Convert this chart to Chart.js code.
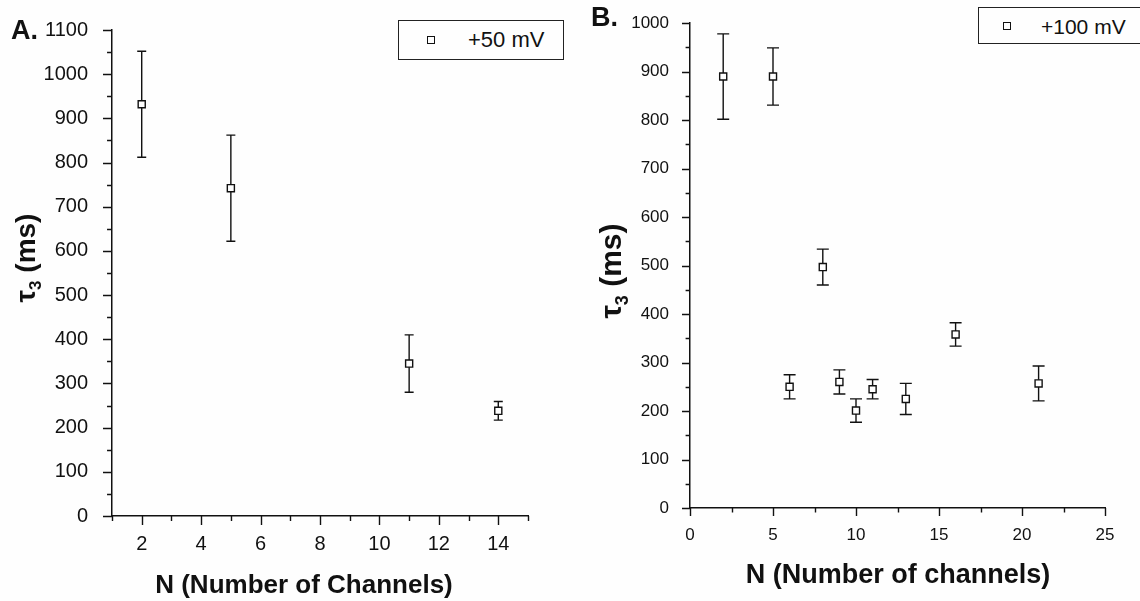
<!DOCTYPE html>
<html>
<head>
<meta charset="utf-8">
<script src="https://cdn.jsdelivr.net/npm/chart.js@4"></script>
<style>
  html, body { margin: 0; padding: 0; background: #fefefe; }
  #wrap { position: relative; width: 1140px; height: 601px; background: #fefefe; overflow: hidden;
          font-family: "Liberation Sans", Arial, sans-serif; color: #111; }
  .box { position: absolute; top: 0; height: 601px; }
  .lbl { position: absolute; white-space: nowrap; line-height: 1; }
  .panel { font-weight: bold; font-size: 27px; }
  .xt { font-weight: bold; transform: translateX(-50%); }
  .yt { font-weight: bold; transform: translate(-50%, -50%) rotate(-90deg); }
  .legend { position: absolute; border: 1.5px solid #222; box-sizing: border-box; background: #fefefe; }
  .legend .mk { position: absolute; width: 8px; height: 8px; border: 1.4px solid #111; box-sizing: border-box; }
  .legend .tx { position: absolute; line-height: 1; }
</style>
</head>
<body>
<div id="wrap">
  <div class="box" style="left:0;width:580px"><canvas id="chartA"></canvas></div>
  <div class="box" style="left:580px;width:560px"><canvas id="chartB"></canvas></div>

  <div class="lbl panel" style="left:11px;top:17px">A.</div>
  <div class="lbl panel" style="left:591px;top:4px">B.</div>

  <div class="lbl yt" style="left:28px;top:258px;font-size:28px">τ<sub style="font-size:17px">3</sub> (ms)</div>
  <div class="lbl yt" style="left:613px;top:271px;font-size:30px">τ<sub style="font-size:18px">3</sub> (ms)</div>

  <div class="lbl xt" style="left:304px;top:571px;font-size:26px">N (Number of Channels)</div>
  <div class="lbl xt" style="left:898px;top:561px;font-size:27px">N (Number of channels)</div>

  <div class="legend" style="left:398px;top:20px;width:166px;height:40px">
    <div class="mk" style="left:28px;top:15px"></div>
    <div class="tx" style="left:69px;top:8px;font-size:22px">+50 mV</div>
  </div>
  <div class="legend" style="left:978px;top:7px;width:170px;height:37px">
    <div class="mk" style="left:24px;top:14px"></div>
    <div class="tx" style="left:62px;top:8px;font-size:21px">+100 mV</div>
  </div>
</div>

<script>
// Panel A: +50 mV
const nA = [2, 5, 11, 14];
const tauA = [932, 742, 345, 238];
const errA = [120, 120, 65, 21];
const xTicksA = [2, 4, 6, 8, 10, 12, 14];
const yTicksA = [0, 100, 200, 300, 400, 500, 600, 700, 800, 900, 1000, 1100];

// Panel B: +100 mV
const nB = [2, 5, 6, 8, 9, 10, 11, 13, 16, 21];
const tauB = [890, 890, 250, 497, 260, 201, 245, 225, 358, 257];
const errB = [88, 59, 25, 37, 25, 24, 20, 32, 24, 36];
const xTicksB = [0, 5, 10, 15, 20, 25];
const yTicksB = [0, 100, 200, 300, 400, 500, 600, 700, 800, 900, 1000];

const ink = '#111';
const fontFam = '"Liberation Sans", Arial, sans-serif';

// error bars drawn under the square markers
const errorBars = {
  id: 'errorBars',
  beforeDatasetsDraw(chart, args, opts) {
    const ctx = chart.ctx;
    const xs = chart.scales.x, ys = chart.scales.y;
    const cap = opts.cap;
    ctx.save();
    ctx.strokeStyle = ink;
    ctx.lineWidth = 1.4;
    chart.data.datasets.forEach(ds => {
      ds.data.forEach((p, i) => {
        const px = xs.getPixelForValue(p.x);
        const top = ys.getPixelForValue(p.y + ds.err[i]);
        const bot = ys.getPixelForValue(p.y - ds.err[i]);
        ctx.beginPath();
        ctx.moveTo(px, top); ctx.lineTo(px, bot);
        ctx.moveTo(px - cap, top); ctx.lineTo(px + cap, top);
        ctx.moveTo(px - cap, bot); ctx.lineTo(px + cap, bot);
        ctx.stroke();
      });
    });
    ctx.restore();
  }
};

// outward major/minor tick marks, Origin style
const tickMarks = {
  id: 'tickMarks',
  afterDraw(chart, args, opts) {
    const ctx = chart.ctx;
    const xs = chart.scales.x, ys = chart.scales.y;
    const a = chart.chartArea;
    ctx.save();
    ctx.strokeStyle = ink;
    ctx.lineWidth = 1.4;
    ctx.beginPath();
    for (let v = xs.min; v <= xs.max + 1e-9; v += opts.xMinor) {
      const px = Math.round(xs.getPixelForValue(v)) + 0.5;
      const major = opts.xMajor.some(t => Math.abs(t - v) < 1e-6);
      ctx.moveTo(px, a.bottom); ctx.lineTo(px, a.bottom + (major ? opts.len : opts.len * 0.55));
    }
    for (let v = ys.min; v <= ys.max + 1e-9; v += opts.yMinor) {
      const py = Math.round(ys.getPixelForValue(v)) + 0.5;
      const major = opts.yMajor.some(t => Math.abs(t - v) < 1e-6);
      ctx.moveTo(a.left, py); ctx.lineTo(a.left - (major ? opts.len : opts.len * 0.55), py);
    }
    ctx.stroke();
    ctx.restore();
  }
};

function makeChart(id, n, tau, err, cfg) {
  const ctx = document.getElementById(id).getContext('2d');
  return new Chart(ctx, {
    type: 'scatter',
    data: {
      datasets: [{
        data: n.map((x, i) => ({ x: x, y: tau[i] })),
        err: err,
        pointStyle: 'rect',
        pointRadius: cfg.radius,
        pointHoverRadius: cfg.radius,
        backgroundColor: '#fff',
        borderColor: ink,
        borderWidth: 1.4,
        showLine: false
      }]
    },
    options: {
      responsive: true,
      maintainAspectRatio: false,
      animation: false,
      events: [],
      layout: { padding: cfg.padding },
      plugins: {
        legend: { display: false },
        tooltip: { enabled: false },
        errorBars: { cap: cfg.cap },
        tickMarks: { xMajor: cfg.xTicks, yMajor: cfg.yTicks, xMinor: cfg.xMinor, yMinor: cfg.yMinor, len: cfg.tickLen }
      },
      scales: {
        x: {
          type: 'linear',
          min: cfg.xMin, max: cfg.xMax,
          grid: { display: false },
          border: { display: true, color: ink, width: 1.5 },
          ticks: { color: ink, font: { family: fontFam, size: cfg.font }, padding: cfg.xPad, maxRotation: 0, autoSkip: false,
                   callback: v => String(v) },
          afterBuildTicks: s => { s.ticks = cfg.xTicks.map(v => ({ value: v })); },
          afterFit: s => { s.height = cfg.xHeight; }
        },
        y: {
          type: 'linear',
          min: cfg.yMin, max: cfg.yMax,
          grid: { display: false },
          border: { display: true, color: ink, width: 1.5 },
          ticks: { color: ink, font: { family: fontFam, size: cfg.font }, padding: cfg.yPad, autoSkip: false,
                   callback: v => String(v) },
          afterBuildTicks: s => { s.ticks = cfg.yTicks.map(v => ({ value: v })); },
          afterFit: s => { s.width = cfg.yWidth; }
        }
      }
    },
    plugins: [errorBars, tickMarks]
  });
}

makeChart('chartA', nA, tauA, errA, {
  radius: 5, cap: 4.5, tickLen: 9, font: 20,
  padding: { top: 30, right: 52, left: 0, bottom: 0 },
  xMin: 1, xMax: 15, yMin: 0, yMax: 1100,
  xTicks: xTicksA, yTicks: yTicksA, xMinor: 1, yMinor: 50,
  xPad: 8, yPad: 16, xHeight: 85, yWidth: 112
});

makeChart('chartB', nB, tauB, errB, {
  radius: 5, cap: 6, tickLen: 8, font: 17,
  padding: { top: 21, right: 35, left: 0, bottom: 0 },
  xMin: 0, xMax: 25, yMin: 0, yMax: 1000,
  xTicks: xTicksB, yTicks: yTicksB, xMinor: 2.5, yMinor: 50,
  xPad: 9, yPad: 13, xHeight: 93, yWidth: 110
});
</script>
</body>
</html>
